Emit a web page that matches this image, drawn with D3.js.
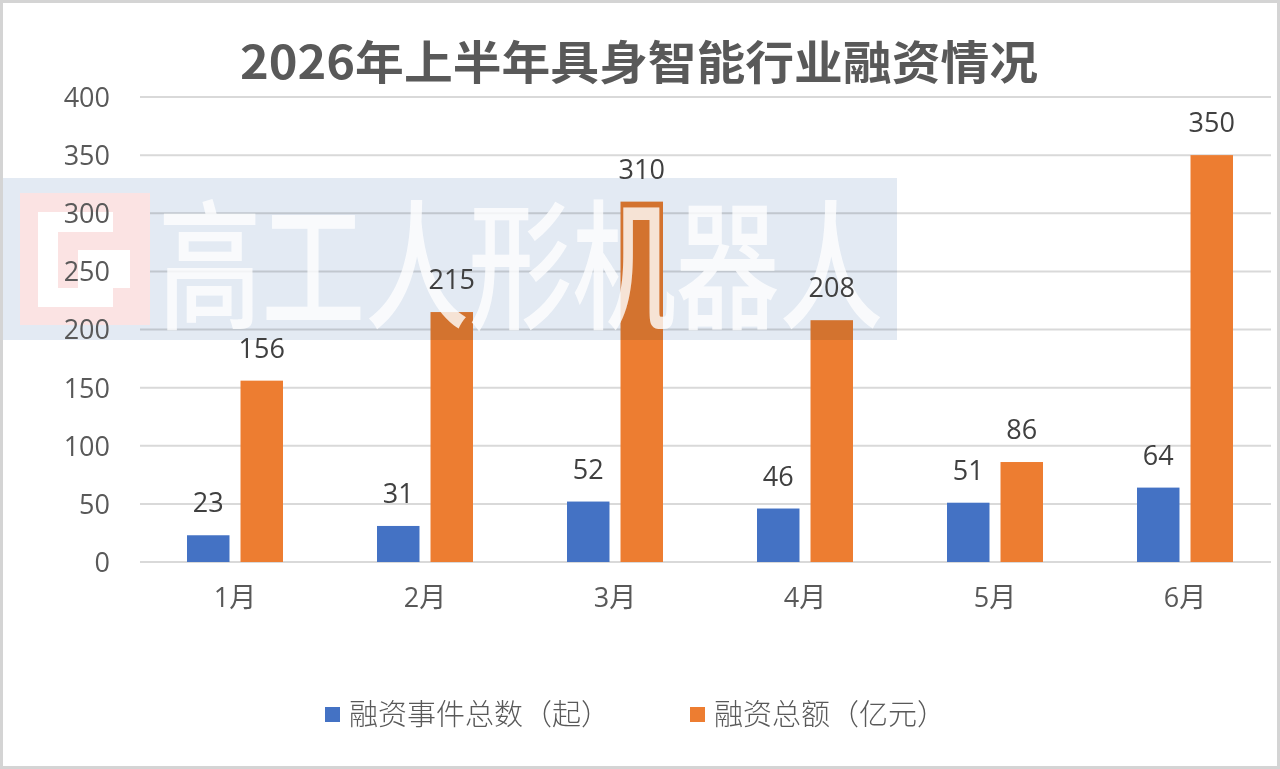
<!DOCTYPE html>
<html>
<head>
<meta charset="utf-8">
<script src="https://cdn.jsdelivr.net/npm/d3@7"></script>
<style>
  body { margin: 0; background: #fff; }
  svg { display: block; }
</style>
</head>
<body>
<div id="chart"></div>
<script>
// chart data
var months = ["1月", "2月", "3月", "4月", "5月", "6月"];
var eventCounts = [23, 31, 52, 46, 51, 64];
var amounts = [156, 215, 310, 208, 86, 350];
var seriesNames = ["融资事件总数（起）", "融资总额（亿元）"];
var yTicks = [0, 50, 100, 150, 200, 250, 300, 350, 400];
var mainTitle = "2026年上半年具身智能行业融资情况";
var watermarkText = "高工人形机器人";

var colors = ["#4472C4", "#ED7D31"];
var W = 1280, H = 769;

var svg = d3.select("#chart").append("svg")
	.attr("width", W)
	.attr("height", H);

svg.append("rect")
	.attr("x", 1.5).attr("y", 1.5)
	.attr("width", W - 3).attr("height", H - 3)
	.attr("fill", "#fff")
	.attr("stroke", "#d4d4d4")
	.attr("stroke-width", 3);

var x = d3.scaleBand().domain(months).range([140, 1280]).padding(0);
var x1 = d3.scaleBand().domain([0, 1]).range([0, 96]).paddingInner(0.206);
var y = d3.scaleLinear().domain([0, 400]).range([562, 97]);

// gridlines
svg.append("g").selectAll("line")
	.data(yTicks).enter()
	.append("line")
	.attr("x1", 140).attr("x2", 1271)
	.attr("y1", function(d) { return y(d); })
	.attr("y2", function(d) { return y(d); })
	.attr("stroke", "#d9d9d9")
	.attr("stroke-width", 2);

// bars
var rows = months.map(function(m, i) {
	return { month: m, values: [eventCounts[i], amounts[i]] };
});
function groupShift(d) {
	return "translate(" + (x(d.month) + x.bandwidth() / 2 - 48) + ",0)";
}

svg.append("g").selectAll("g")
	.data(rows).enter()
	.append("g")
	.attr("transform", groupShift)
	.selectAll("rect")
	.data(function(d) { return d.values; }).enter()
	.append("rect")
	.attr("x", function(d, i) { return x1(i); })
	.attr("y", function(d) { return y(d); })
	.attr("width", x1.bandwidth())
	.attr("height", function(d) { return y(0) - y(d); })
	.attr("fill", function(d, i) { return colors[i]; });

// watermark overlay (sits over the bars, under the labels)
var wm = svg.append("g");
wm.append("rect")
	.attr("x", 3).attr("y", 178)
	.attr("width", 894).attr("height", 162)
	.attr("fill", "#e3eaf3")
	.style("mix-blend-mode", "multiply");
wm.append("rect").attr("x", 20).attr("y", 193).attr("width", 130).attr("height", 132)
	.attr("fill", "#fbe3e3");
wm.append("rect").attr("x", 38).attr("y", 212).attr("width", 75).attr("height", 95)
	.attr("fill", "#fff");
wm.append("rect").attr("x", 58).attr("y", 232).attr("width", 92).attr("height", 56)
	.attr("fill", "#fbe3e3");
wm.append("rect").attr("x", 78).attr("y", 250).attr("width", 52).attr("height", 38)
	.attr("fill", "#fff");
wm.append("text")
	.attr("x", 158).attr("y", 318)
	.attr("font-family", "'Noto Sans CJK SC', sans-serif")
	.attr("font-weight", 500)
	.attr("font-size", 140)
	.attr("textLength", 725)
	.attr("lengthAdjust", "spacingAndGlyphs")
	.attr("fill", "#fff")
	.attr("opacity", 0.8)
	.text(watermarkText);

// y axis labels
var yAxis = d3.axisLeft(y).tickValues(yTicks).tickSize(0).tickPadding(0);
var yg = svg.append("g").attr("transform", "translate(110,0)").call(yAxis);
yg.select(".domain").remove();
yg.selectAll("text")
	.attr("font-family", "'Open Sans', sans-serif")
	.attr("font-size", 27)
	.attr("fill", "#595959")
	.attr("dy", "0.35em");

// x axis labels
var xAxis = d3.axisBottom(x).tickSize(0).tickPadding(0);
var xg = svg.append("g").attr("transform", "translate(0,588)").call(xAxis);
xg.select(".domain").remove();
xg.selectAll("text")
	.attr("font-family", "'Open Sans', 'Noto Sans CJK SC', sans-serif")
	.attr("font-size", 27)
	.attr("fill", "#595959")
	.attr("dy", "0.71em");

// value labels
svg.append("g").selectAll("g")
	.data(rows).enter()
	.append("g")
	.attr("transform", groupShift)
	.selectAll("text")
	.data(function(d) { return d.values; }).enter()
	.append("text")
	.attr("x", function(d, i) { return x1(i) + x1.bandwidth() / 2; })
	.attr("y", function(d) { return y(d) - 23; })
	.attr("text-anchor", "middle")
	.attr("font-family", "'Open Sans', sans-serif")
	.attr("font-size", 27)
	.attr("fill", "#404040")
	.text(function(d) { return d; });

// title
svg.append("text")
	.attr("x", 639).attr("y", 79)
	.attr("text-anchor", "middle")
	.attr("font-family", "'Noto Sans CJK SC', sans-serif")
	.attr("font-weight", "bold")
	.attr("font-size", 46)
	.attr("textLength", 798)
	.attr("lengthAdjust", "spacingAndGlyphs")
	.attr("fill", "#595959")
	.text(mainTitle);

// legend
var legend = svg.append("g");
var legendX = [325, 690];
seriesNames.forEach(function(name, i) {
	legend.append("rect")
		.attr("x", legendX[i]).attr("y", 707)
		.attr("width", 15).attr("height", 15)
		.attr("fill", colors[i]);
	legend.append("text")
		.attr("x", legendX[i] + 24).attr("y", 725)
		.attr("font-family", "'Noto Sans CJK SC', sans-serif")
		.attr("font-weight", 300)
		.attr("font-size", 29)
		.attr("fill", "#595959")
		.text(name);
});
</script>
</body>
</html>
